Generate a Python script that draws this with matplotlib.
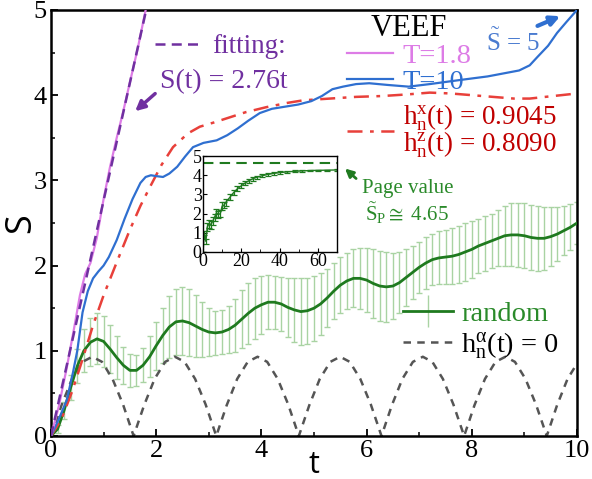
import numpy as np
import matplotlib
matplotlib.use("Agg")
import matplotlib.pyplot as plt
from matplotlib.lines import Line2D
from matplotlib.ticker import MultipleLocator
from matplotlib.container import ErrorbarContainer
from matplotlib.legend_handler import HandlerErrorbar

plt.rcParams['font.family'] = ['Liberation Serif', 'DejaVu Serif']
plt.rcParams['mathtext.fontset'] = 'custom'
plt.rcParams['mathtext.rm'] = 'Liberation Serif'
plt.rcParams['mathtext.it'] = 'Liberation Serif:italic'
plt.rcParams['mathtext.bf'] = 'Liberation Serif:bold'

# ---------------- data ----------------
pink_t = [0, 0.15, 0.3, 0.45, 0.55, 0.65, 0.75, 0.87, 1.0, 1.12, 1.25, 1.37, 1.5, 1.65, 1.8]
pink_S = [0, 0.35, 0.8, 1.3, 1.65, 1.9, 2.03, 2.32, 2.78, 3.15, 3.5, 3.8, 4.15, 4.55, 5.0]

fit_t = [0, 1.81]
fit_S = [0, 5.0]

blue_t = [0, 0.15, 0.3, 0.42, 0.5, 0.6, 0.7, 0.8, 0.9, 1.0, 1.1, 1.25, 1.4, 1.55, 1.7, 1.8,
          1.9, 2.0, 2.13, 2.25, 2.4, 2.55, 2.7, 2.9, 3.15, 3.35, 3.55, 3.75, 3.97, 4.2, 4.4,
          4.7, 4.95, 5.15, 5.35, 5.55, 5.8, 6.05, 6.4, 6.8, 7.2, 7.8, 8.3, 8.9, 9.1, 9.25,
          9.45, 9.62, 9.8, 10]
blue_S = [0, 0.2, 0.42, 0.75, 1.0, 1.45, 1.7, 1.85, 1.93, 2.0, 2.1, 2.3, 2.55, 2.78, 2.97, 3.04,
          3.06, 3.05, 3.04, 3.08, 3.16, 3.28, 3.39, 3.44, 3.47, 3.53, 3.61, 3.7, 3.79, 3.84, 3.86,
          3.89, 3.93, 3.99, 4.07, 4.1, 4.13, 4.14, 4.12, 4.1, 4.13, 4.18, 4.22, 4.29, 4.35, 4.45,
          4.58, 4.73, 4.86, 5.0]

red_t = [0, 0.2, 0.4, 0.6, 0.8, 1.0, 1.27, 1.5, 1.7, 1.88, 2.1, 2.32, 2.6, 2.83, 3.1, 3.35, 3.7,
         4.1, 4.5, 4.8, 5.3, 5.8, 6.3, 6.8, 7.2, 7.6, 8.0, 8.4, 8.8, 9.1, 9.4, 9.7, 10]
red_S = [0, 0.2, 0.52, 0.9, 1.3, 1.65, 2.07, 2.42, 2.7, 2.92, 3.18, 3.39, 3.55, 3.63, 3.68, 3.73,
         3.8, 3.86, 3.91, 3.94, 3.96, 3.98, 3.99, 4.01, 4.03, 4.02, 4.0, 3.98, 3.96, 3.96, 3.98,
         4.0, 4.02]

rand_t = [0, 0.125, 0.25, 0.375, 0.5, 0.625, 0.75, 0.875, 1.0, 1.125, 1.25, 1.375, 1.5, 1.625,
          1.75, 1.875, 2.0, 2.125, 2.25, 2.375, 2.5, 2.625, 2.75, 2.875, 3.0, 3.125, 3.25, 3.375,
          3.5, 3.625, 3.75, 3.875, 4.0, 4.125, 4.25, 4.375, 4.5, 4.625, 4.75, 4.875, 5.0, 5.125,
          5.25, 5.375, 5.5, 5.625, 5.75, 5.875, 6.0, 6.125, 6.25, 6.375, 6.5, 6.625, 6.75, 6.875,
          7.0, 7.125, 7.25, 7.375, 7.5, 7.625, 7.75, 7.875, 8.0, 8.125, 8.25, 8.375, 8.5, 8.625,
          8.75, 8.875, 9.0, 9.125, 9.25, 9.375, 9.5, 9.625, 9.75, 9.875, 10.0]
rand_S = [0, 0.08, 0.3, 0.57, 0.82, 1.0, 1.1, 1.14, 1.11, 1.02, 0.92, 0.83, 0.77, 0.77,
          0.83, 0.93, 1.06, 1.18, 1.28, 1.34, 1.35, 1.33, 1.29, 1.25, 1.22, 1.21, 1.22, 1.25,
          1.3, 1.37, 1.44, 1.5, 1.54, 1.57, 1.57, 1.55, 1.51, 1.48, 1.46, 1.47, 1.5, 1.55,
          1.62, 1.7, 1.77, 1.82, 1.85, 1.85, 1.83, 1.79, 1.76, 1.75, 1.76, 1.8, 1.86, 1.92,
          1.98, 2.03, 2.07, 2.09, 2.1, 2.11, 2.13, 2.16, 2.19, 2.23, 2.26, 2.29, 2.32, 2.35,
          2.36, 2.36, 2.35, 2.33, 2.32, 2.32, 2.34, 2.37, 2.41, 2.45, 2.5]
rand_err = [0, 0.05, 0.1, 0.15, 0.2, 0.25, 0.28, 0.3, 0.3, 0.28, 0.25, 0.22, 0.19, 0.18,
            0.2, 0.24, 0.28, 0.32, 0.36, 0.39, 0.4, 0.39, 0.36, 0.32, 0.28, 0.26, 0.26, 0.28,
            0.31, 0.34, 0.36, 0.36, 0.34, 0.32, 0.31, 0.32, 0.35, 0.38, 0.39, 0.39, 0.38, 0.36,
            0.34, 0.33, 0.33, 0.33, 0.34, 0.36, 0.38, 0.4, 0.41, 0.41, 0.39, 0.36, 0.33, 0.31,
            0.3, 0.3, 0.3, 0.31, 0.32, 0.33, 0.34, 0.34, 0.33, 0.32, 0.32, 0.32, 0.33, 0.35,
            0.37, 0.38, 0.38, 0.38, 0.38, 0.37, 0.35, 0.32, 0.29, 0.27, 0.25]

zero_t = [0, 0.2, 0.4, 0.6, 0.785, 0.97, 1.17, 1.37,
          1.571, 1.77, 1.97, 2.17, 2.356, 2.54, 2.74, 2.94,
          3.142, 3.34, 3.54, 3.74, 3.927, 4.11, 4.31, 4.51,
          4.712, 4.91, 5.11, 5.31, 5.498, 5.68, 5.88, 6.08,
          6.283, 6.48, 6.68, 6.88, 7.069, 7.25, 7.45, 7.65,
          7.854, 8.05, 8.25, 8.45, 8.639, 8.82, 9.02, 9.22,
          9.425, 9.62, 9.82, 10.0]
zero_S = [0, 0.36, 0.67, 0.87, 0.93, 0.87, 0.67, 0.37,
          0, 0.36, 0.67, 0.87, 0.93, 0.87, 0.67, 0.37,
          0, 0.36, 0.67, 0.87, 0.93, 0.87, 0.67, 0.37,
          0, 0.36, 0.67, 0.87, 0.93, 0.87, 0.67, 0.37,
          0, 0.36, 0.67, 0.87, 0.93, 0.87, 0.67, 0.37,
          0, 0.36, 0.67, 0.87, 0.93, 0.87, 0.67, 0.37,
          0, 0.36, 0.67, 0.85]

inset_t = [0, 0.7, 1.5, 2.2, 3, 4, 5, 6, 7, 8, 9, 10, 11, 12, 14, 16, 18, 20, 22, 24, 26, 28,
           31, 34, 37, 40, 44, 48, 52, 56, 60, 65, 70]
inset_S = [0, 1.0, 0.55, 1.3, 1.45, 1.4, 1.6, 1.8, 2.05, 1.95, 2.0, 2.4, 2.45, 2.6, 2.85, 3.1,
           3.3, 3.45, 3.6, 3.72, 3.82, 3.9, 3.98, 4.05, 4.1, 4.14, 4.18, 4.21, 4.23, 4.25,
           4.26, 4.27, 4.28]
inset_err = [0, 0.1, 0.15, 0.2, 0.2, 0.2, 0.2, 0.2, 0.2, 0.2, 0.2, 0.2, 0.18, 0.18, 0.16, 0.15,
             0.14, 0.13, 0.12, 0.11, 0.1, 0.09, 0.08, 0.07, 0.06, 0.06, 0.05, 0.05, 0.04,
             0.04, 0.04, 0.03, 0.03]
page_value = 4.65

# colours
C_PINK = '#dd7ce6'
C_PURPLE = '#7030a0'
C_BLUE = '#2f6fd0'
C_BLUE_TXT = '#4a7bd0'
C_RED = '#e8403a'
C_RED_TXT = '#c00000'
C_GREEN = '#1f7a1f'
C_GREEN_ERR = '#a9d3a3'
C_GREEN_TXT = '#2a8a2a'
C_GRAY = '#555555'

fig = plt.figure(figsize=(5.92, 4.79), dpi=100)
ax = fig.add_axes([0.0861, 0.0898, 0.8886, 0.8894])

ax.errorbar(rand_t, rand_S, yerr=rand_err, fmt='none', ecolor=C_GREEN_ERR,
            elinewidth=1.0, capsize=2.5, capthick=1.0, zorder=1)
ax.plot(rand_t, rand_S, color=C_GREEN, lw=2.0, zorder=3)
ax.plot(zero_t, zero_S, color=C_GRAY, lw=1.8, dashes=(3, 2.5), zorder=2)
ax.plot(red_t, red_S, color=C_RED, lw=1.8, dashes=(6, 3, 1.5, 3), zorder=4)
ax.plot(blue_t, blue_S, color=C_BLUE, lw=1.6, zorder=5)
ax.plot(pink_t, pink_S, color=C_PINK, lw=1.6, zorder=5)
ax.plot(fit_t, fit_S, color=C_PURPLE, lw=1.8, dashes=(4, 2.5), zorder=6)

ax.set_xlim(0, 10)
ax.set_ylim(0, 5)
ax.xaxis.set_major_locator(MultipleLocator(2))
ax.xaxis.set_minor_locator(MultipleLocator(1))
ax.yaxis.set_major_locator(MultipleLocator(1))
ax.yaxis.set_minor_locator(MultipleLocator(0.5))
ax.tick_params(which='both', direction='in', top=False, right=False, labelsize=19, pad=3)
ax.tick_params(which='major', length=5, width=1.3)
ax.tick_params(which='minor', length=3, width=1.1)
for s in ax.spines.values():
    s.set_linewidth(1.8)
ax.set_xlabel('t', family=['Open Sans', 'DejaVu Sans'], fontsize=22, labelpad=-9)
ax.set_ylabel('S', family=['Open Sans', 'DejaVu Sans'], fontsize=26, labelpad=-4)

def fx(px):
    return (px - 51) / 526.0

def fy(py):
    return (436 - py) / 426.0

# VEEF legend
h1 = [Line2D([], [], color=C_PINK, lw=1.6), Line2D([], [], color=C_BLUE, lw=1.6)]
leg1 = ax.legend(h1, ['T=1.8', 'T=10'], title='VEEF', loc='upper left',
                 bbox_to_anchor=(fx(347), fy(14)), frameon=False, fontsize=20.5,
                 title_fontsize=22, borderpad=0, borderaxespad=0, handlelength=1.6,
                 handletextpad=0.35, labelspacing=0.0)
for t, c in zip(leg1.get_texts(), [C_PINK, C_BLUE]):
    t.set_color(c)
ax.add_artist(leg1)

# fitting legend
h2 = [Line2D([], [], color=C_PURPLE, lw=1.8, dashes=(4, 2.5))]
leg2 = ax.legend(h2, ['fitting:'], loc='center left', bbox_to_anchor=(fx(155), fy(47)),
                 frameon=False, fontsize=19.5, borderpad=0, borderaxespad=0,
                 handlelength=1.75, handletextpad=0.35)
leg2.get_texts()[0].set_color(C_PURPLE)
ax.add_artist(leg2)
ax.text(2.07, 4.155, 'S(t) = 2.76t', color=C_PURPLE, fontsize=20, ha='left', va='center')

# red legend
h3 = [Line2D([], [], color=C_RED, lw=1.8, dashes=(6, 3, 1.5, 3))]
leg3 = ax.legend(h3, [r'$\mathrm{h_n^x(t)}$ = 0.9045' + '\n' + r'$\mathrm{h_n^z(t)}$ = 0.8090'],
                 loc='center left', bbox_to_anchor=(fx(347), fy(131)), frameon=False,
                 fontsize=19.5, borderpad=0, borderaxespad=0, handlelength=1.75,
                 handletextpad=0.3)
leg3.get_texts()[0].set_color(C_RED_TXT)
leg3.get_texts()[0].set_linespacing(0.85)
ax.add_artist(leg3)

# random legend
eb_handle = ax.errorbar([], [], yerr=[], color=C_GREEN, ecolor=C_GREEN_ERR, capsize=4,
                        lw=2.0, elinewidth=1.0)
h4 = [eb_handle, Line2D([], [], color=C_GRAY, lw=1.8, dashes=(3, 2.5))]
leg4 = ax.legend(h4, ['random', r'$\mathrm{h_n^\alpha(t)}$ = 0'], loc='upper left',
                 bbox_to_anchor=(fx(403), fy(301)), frameon=False, fontsize=20.5,
                 borderpad=0, borderaxespad=0, handlelength=1.75, handletextpad=0.3,
                 labelspacing=0.12,
                 handler_map={ErrorbarContainer: HandlerErrorbar(yerr_size=0.55)})
leg4.get_texts()[0].set_color(C_GREEN_TXT)
leg4.get_texts()[1].set_color('black')

# annotations
ax.annotate('', xy=(1.56, 3.79), xytext=(2.02, 4.04),
            arrowprops=dict(arrowstyle='-|>', color=C_PURPLE, lw=2.5, mutation_scale=14))
ax.annotate('', xy=(9.73, 4.94), xytext=(9.2, 4.8),
            arrowprops=dict(arrowstyle='-|>', color=C_BLUE, lw=3, mutation_scale=14))
ax.text(8.78, 4.62, r'$\tilde{\mathrm{S}}$ = 5', color=C_BLUE_TXT, fontsize=18,
        ha='center', va='center')
ax.annotate('', xy=(5.55, 3.16), xytext=(5.84, 3.0),
            arrowprops=dict(arrowstyle='-|>', color=C_GREEN, lw=2, mutation_scale=12))
ax.text(5.91, 2.91, 'Page value', color=C_GREEN_TXT, fontsize=15, ha='left', va='center')
ax.text(5.97, 2.61, r'$\tilde{\mathrm{S}}_\mathrm{P}\cong$ 4.65', color=C_GREEN_TXT,
        fontsize=15, ha='left', va='center')

# inset
axin = fig.add_axes([0.343, 0.474, 0.226, 0.200])
axin.errorbar(inset_t, inset_S, yerr=inset_err, color=C_GREEN, lw=1.0, elinewidth=0.9,
              capsize=2, capthick=0.9)
axin.axhline(page_value, color=C_GREEN, lw=1.5, dashes=(5, 3))
axin.set_xlim(0, 70)
axin.set_ylim(0, 5)
axin.xaxis.set_major_locator(MultipleLocator(20))
axin.xaxis.set_minor_locator(MultipleLocator(10))
axin.yaxis.set_major_locator(MultipleLocator(1))
axin.tick_params(which='both', direction='in', top=False, right=False, labelsize=13, pad=1)
axin.tick_params(which='major', length=3, width=0.8)
axin.tick_params(which='minor', length=2, width=0.6)
for s in axin.spines.values():
    s.set_linewidth(1.0)

fig.savefig('out.png', dpi=100)
